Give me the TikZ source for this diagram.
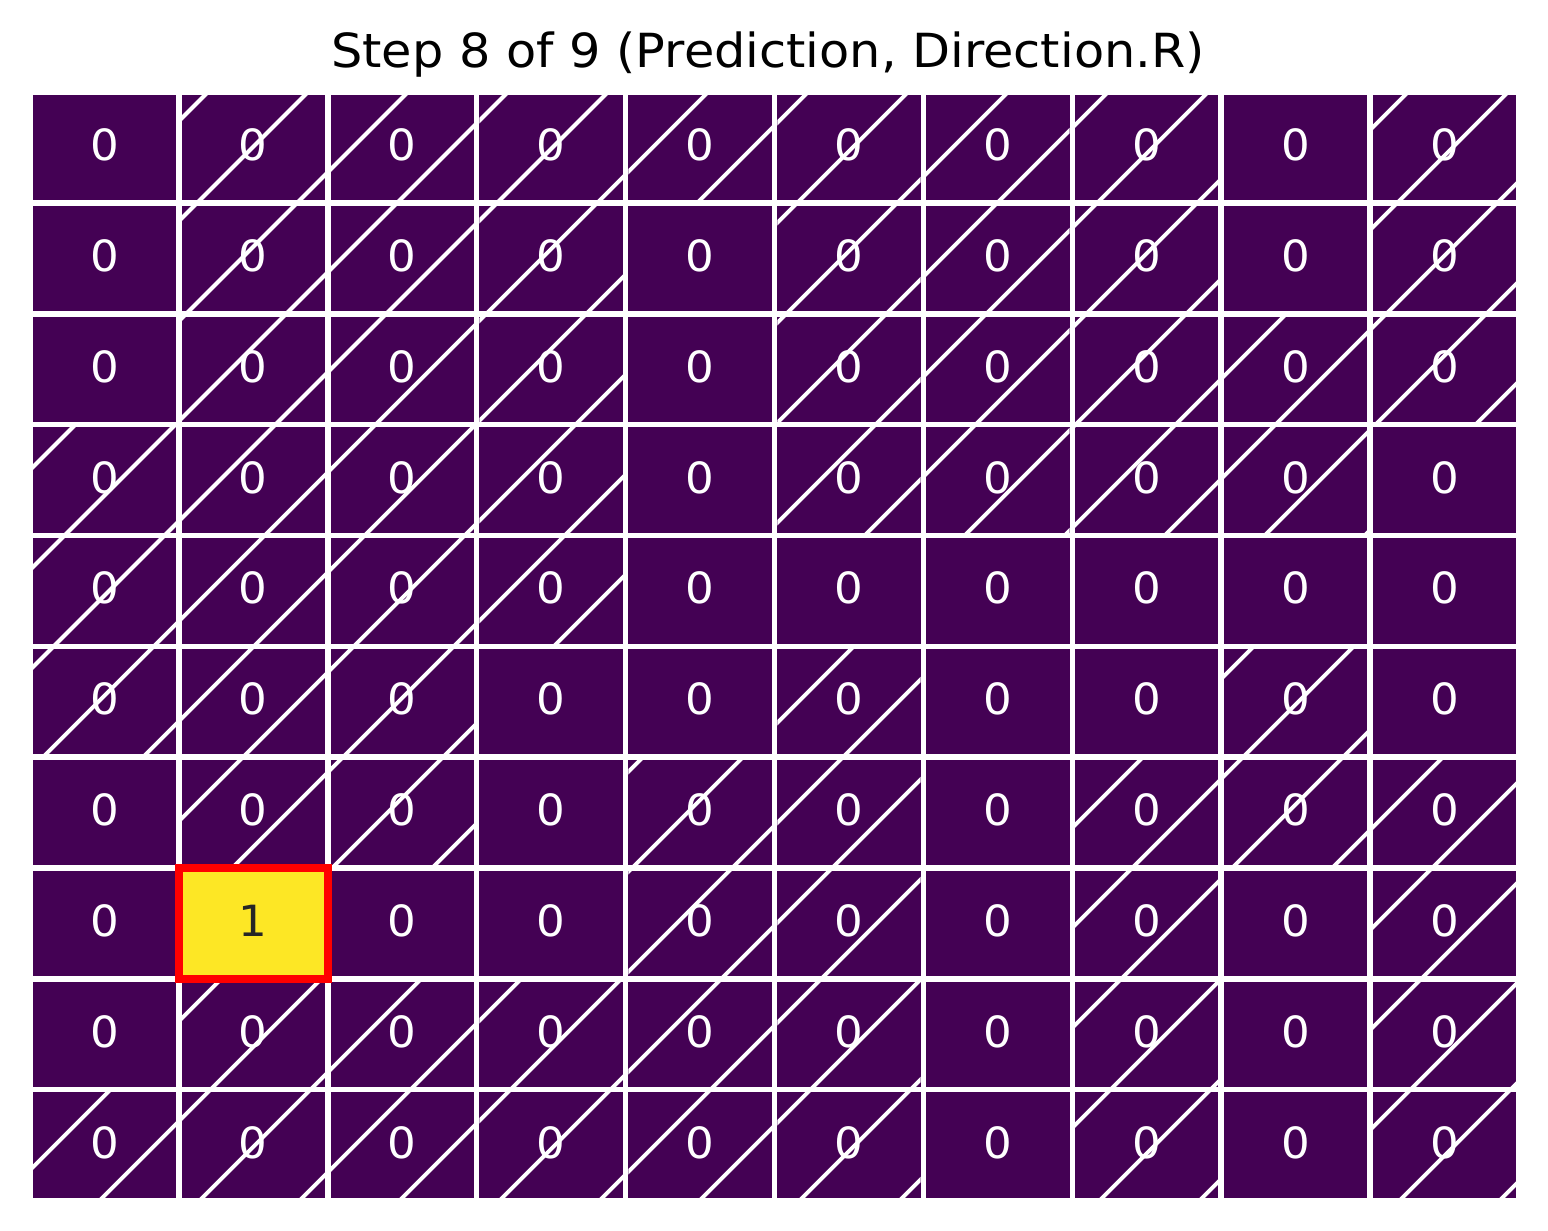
\documentclass[tikz,border=0pt]{standalone}
\usepackage{fontspec}
\setmainfont{DejaVu Sans}[FakeStretch=1.05]
\definecolor{vpurple}{HTML}{440154}
\definecolor{vyellow}{HTML}{FDE725}
\definecolor{darktext}{HTML}{262626}
\definecolor{markred}{HTML}{FF0000}
\begin{document}
\begin{tikzpicture}[x=0.5pt,y=-0.5pt,
  celltext/.style={text=white,font=\fontsize{21.5}{26}\selectfont,anchor=base,inner sep=0pt},
  hatchline/.style={draw=white,line width=1.95pt},
  cellfill/.style={fill=vpurple},
  marker/.style={draw=markred,line width=3.85pt}]
\useasboundingbox[fill=white] (0,0) rectangle (1548,1231);
\def\Lx{30}\def\Pw{148.9}\def\Ty{92.2}\def\Qh{110.83}\def\Gp{2.75}
% cells
\foreach \r in {0,...,9}{
  \foreach \c in {0,...,9}{
    \pgfmathsetmacro\xa{\Lx+\c*\Pw+\Gp}
    \pgfmathsetmacro\xb{\Lx+(\c+1)*\Pw-\Gp}
    \pgfmathsetmacro\ya{\Ty+\r*\Qh+\Gp}
    \pgfmathsetmacro\yb{\Ty+(\r+1)*\Qh-\Gp}
    \fill[cellfill] (\xa,\ya) rectangle (\xb,\yb);
  }
}
% hatching
\foreach \r/\cols in {0/{1,2,3,4,5,6,7,9},1/{1,2,3,5,6,7,9},2/{1,2,3,5,6,7,8,9},3/{0,1,2,3,5,6,7,8},4/{0,1,2,3},5/{0,1,2,5,8},6/{1,2,4,5,7,8,9},7/{4,5,7,9},8/{1,2,3,4,5,7,9},9/{0,1,2,3,4,5,7,9}}{
  \foreach \c in \cols {
    \pgfmathsetmacro\xa{\Lx+\c*\Pw+\Gp}
    \pgfmathsetmacro\xb{\Lx+(\c+1)*\Pw-\Gp}
    \pgfmathsetmacro\ya{\Ty+\r*\Qh+\Gp}
    \pgfmathsetmacro\yb{\Ty+(\r+1)*\Qh-\Gp}
    \pgfmathtruncatemacro\kmin{floor((\xa+\ya)/100)}
    \begin{scope}
      \clip (\xa,\ya) rectangle (\xb,\yb);
      \foreach \k in {0,...,3}{
        \pgfmathsetmacro\cc{100*(\kmin+\k)}
        \draw[hatchline] ({\cc-\ya+10},{\ya-10}) -- ({\cc-\yb-10},{\yb+10});
      }
    \end{scope}
  }
}
% highlighted cell
\pgfmathsetmacro\xa{\Lx+1*\Pw+\Gp}
\pgfmathsetmacro\xb{\Lx+2*\Pw-\Gp}
\pgfmathsetmacro\ya{\Ty+7*\Qh+\Gp}
\pgfmathsetmacro\yb{\Ty+8*\Qh-\Gp}
\fill[vyellow] (\xa,\ya) rectangle (\xb,\yb);
% labels
\foreach \r in {0,...,9}{
  \foreach \c in {0,...,9}{
    \pgfmathsetmacro\cx{\Lx+(\c+0.5)*\Pw}
    \pgfmathsetmacro\cy{\Ty+(\r+0.5)*\Qh+13}
    \ifnum\r=7 \ifnum\c=1
      \node[celltext,text=darktext] (cell-\r-\c) at (\cx,\cy) {1};
    \else
      \node[celltext] (cell-\r-\c) at (\cx,\cy) {0};
    \fi\else
      \node[celltext] (cell-\r-\c) at (\cx,\cy) {0};
    \fi
  }
}
% red marker
\pgfmathsetmacro\xa{\Lx+1*\Pw}
\pgfmathsetmacro\xb{\Lx+2*\Pw}
\pgfmathsetmacro\ya{\Ty+7*\Qh}
\pgfmathsetmacro\yb{\Ty+8*\Qh}
\draw[marker] (\xa,\ya) rectangle (\xb,\yb);
% title
\node[font=\fontsize{23.5}{28}\selectfont,anchor=base,inner sep=0pt] (title) at (768,67.5) {Step 8 of 9 (Prediction, Direction.R)};
\end{tikzpicture}
\end{document}
